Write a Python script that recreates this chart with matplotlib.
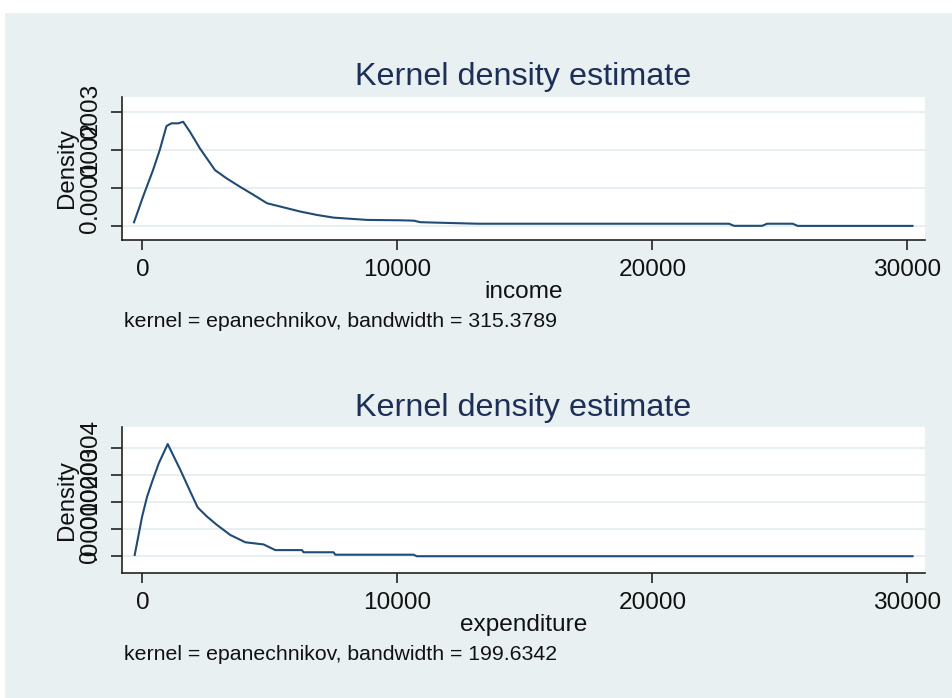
import matplotlib
matplotlib.use("Agg")
import matplotlib.pyplot as plt
from matplotlib.patches import Rectangle

# kdensity output (epanechnikov kernel), read as polyline vertices
income_x = [-330, 24, 417, 681, 945, 1142, 1403, 1600, 1862, 2256, 2846, 3307,
            3831, 4355, 4882, 5535, 6193, 6850, 7504, 8819, 10130, 10650, 10900,
            13150, 23000, 23200, 24300, 24500, 25500, 25700, 30200]
income_d = [9.7e-6, 7.7e-5, 1.47e-4, 2.0e-4, 2.63e-4, 2.70e-4, 2.70e-4, 2.74e-4,
            2.48e-4, 2.04e-4, 1.47e-4, 1.25e-4, 1.03e-4, 8.2e-5, 6.0e-5, 4.9e-5,
            3.8e-5, 2.9e-5, 2.2e-5, 1.6e-5, 1.5e-5, 1.4e-5, 1.0e-5, 6.0e-6, 6.0e-6,
            5.0e-7, 5.0e-7, 6.0e-6, 6.0e-6, 3.0e-7, 3.0e-7]

exp_x = [-302, -12, 184, 380, 639, 992, 1489, 1881, 2168, 2535, 2927, 3448,
         4036, 4753, 5212, 6258, 6320, 7497, 7563, 10630, 10764, 30200]
exp_d = [5.0e-6, 1.47e-4, 2.21e-4, 2.76e-4, 3.44e-4, 4.16e-4, 3.20e-4, 2.39e-4,
         1.81e-4, 1.47e-4, 1.16e-4, 7.9e-5, 5.2e-5, 4.4e-5, 2.3e-5, 2.3e-5,
         1.5e-5, 1.5e-5, 6.0e-6, 6.0e-6, 3.0e-7, 3.0e-7]

x_ticks = [0, 10000, 20000, 30000]
x_ticklabels = ["0", "10000", "20000", "30000"]
income_yticks = [0, 0.0001, 0.0002, 0.0003]
income_yticklabels = ["0", ".0001", ".0002", ".0003"]
exp_yticks = [0, 0.0001, 0.0002, 0.0003, 0.0004]
exp_yticklabels = ["0", ".0001", ".0002", ".0003", ".0004"]

panels = [
    dict(x=income_x, d=income_d, yticks=income_yticks, ylabels=income_yticklabels,
         xlabel="income", note="kernel = epanechnikov, bandwidth = 315.3789",
         ylim=(-0.0000368, 0.00034), top=96.7, bottom=240.0),
    dict(x=exp_x, d=exp_d, yticks=exp_yticks, ylabels=exp_yticklabels,
         xlabel="expenditure", note="kernel = epanechnikov, bandwidth = 199.6342",
         ylim=(-0.0000607, 0.000478), top=427.3, bottom=572.7),
]

plt.rcParams['font.family'] = ['Liberation Sans', 'DejaVu Sans']

W, H = 953, 698
fig = plt.figure(figsize=(W / 100, H / 100), dpi=100)
fig.patch.set_facecolor("white")
bg = "#e8f0f2"
fig.patches.append(Rectangle((5 / W, 0), 1 - 5 / W, 1 - 13 / H,
                             transform=fig.transFigure, facecolor=bg,
                             edgecolor="none", zorder=-10))

left_px, right_px = 121.7, 925.0
for p in panels:
    ax = fig.add_axes([left_px / W, 1 - p["bottom"] / H,
                       (right_px - left_px) / W, (p["bottom"] - p["top"]) / H])
    ax.set_facecolor("white")
    ax.plot(p["x"], p["d"], color="#1f4b75", lw=1.5, solid_joinstyle="round")
    ax.set_xlim(-812, 30690)
    ax.set_ylim(*p["ylim"])

    ax.set_xticks(x_ticks)
    ax.set_xticklabels(x_ticklabels)
    ax.set_yticks(p["yticks"])
    ax.set_yticklabels(p["ylabels"])
    for lbl in ax.get_yticklabels():
        lbl.set_rotation(90)
        lbl.set_va("center")

    ax.yaxis.grid(True, color="#e3ecef", lw=1.2)
    ax.set_axisbelow(True)
    for s in ["top", "right"]:
        ax.spines[s].set_visible(False)
    for s in ["left", "bottom"]:
        ax.spines[s].set_color("#222222")
        ax.spines[s].set_linewidth(1.2)
    ax.tick_params(axis="x", length=7, width=1.2, color="#222222", pad=6.8,
                   labelsize=17.6, labelcolor="#111111")
    ax.tick_params(axis="y", length=8, width=1.2, color="#222222", pad=6.9,
                   labelsize=17.6, labelcolor="#111111")

    ax.set_xlabel(p["xlabel"], fontsize=17.6, labelpad=0, color="#111111")
    ax.set_ylabel("Density", fontsize=17.3, labelpad=1, color="#111111")

    # title and kernel note
    fig.text((left_px + right_px) / 2 / W, 1 - (p["top"] - 11.7) / H,
             "Kernel density estimate", ha="center", va="baseline",
             fontsize=23.3, color="#1e2f57")
    fig.text(124 / W, 1 - (p["bottom"] + 87) / H, p["note"], ha="left",
             va="baseline", fontsize=15.3, color="#111111")

fig.savefig("out.png", dpi=100, facecolor=fig.get_facecolor())
